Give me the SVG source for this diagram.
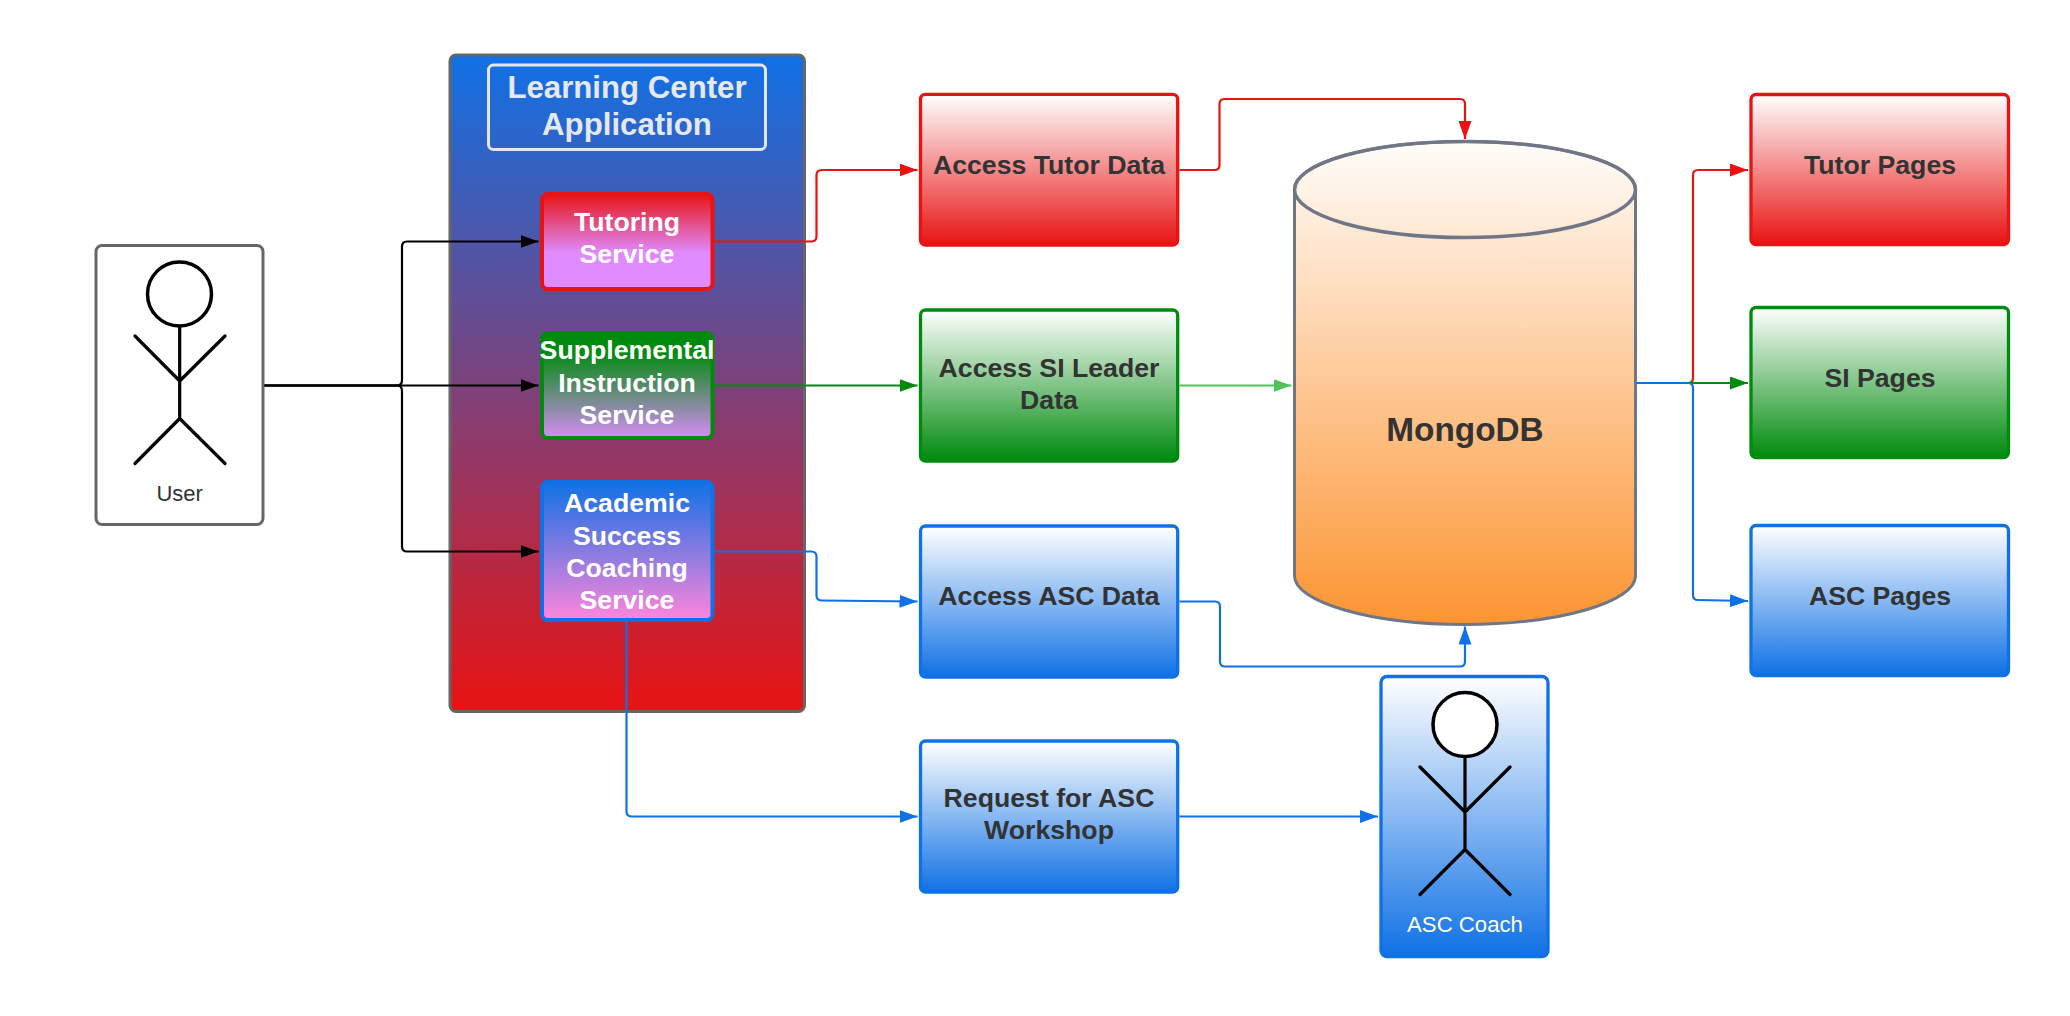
<svg xmlns="http://www.w3.org/2000/svg" width="2070" height="1016" viewBox="0 0 2070 1016">
<style>
text{font-family:"Liberation Sans",Arial,sans-serif;text-anchor:middle}
.b{font-weight:700;font-size:26.67px}
.dk{fill:#333}
.wh{fill:#fff}
.box{stroke-width:3.3}
.svc{stroke-width:4}
.red{stroke:#e81313}.grn{stroke:#008a0e}.blu{stroke:#1071e5}
.stick{fill:none;stroke:#000;stroke-width:3.2;stroke-linecap:round;stroke-linejoin:round}
.head{fill:#fff;stroke:#000;stroke-width:3.5}
.c{fill:none;stroke-width:2.2}
</style>
<defs>
<linearGradient id="gApp" x1="0" y1="0" x2="0" y2="1"><stop offset="0" stop-color="#1071e5"/><stop offset="1" stop-color="#e81313"/></linearGradient>
<linearGradient id="gTut" x1="0" y1="0" x2="0" y2="1"><stop offset="0" stop-color="#e81313"/><stop offset=".62" stop-color="#df8bff"/><stop offset="1" stop-color="#df8bff"/></linearGradient>
<linearGradient id="gSI" x1="0" y1="0" x2="0" y2="1"><stop offset=".18" stop-color="#008a0e"/><stop offset="1" stop-color="#d68cf5"/></linearGradient>
<linearGradient id="gAca" x1="0" y1="0" x2="0" y2="1"><stop offset="0" stop-color="#1071e5"/><stop offset="1" stop-color="#ff85dc"/></linearGradient>
<linearGradient id="gR" x1="0" y1="0" x2="0" y2="1"><stop offset="0" stop-color="#fff"/><stop offset="1" stop-color="#e81313"/></linearGradient>
<linearGradient id="gG" x1="0" y1="0" x2="0" y2="1"><stop offset="0" stop-color="#fff"/><stop offset="1" stop-color="#008a0e"/></linearGradient>
<linearGradient id="gB" x1="0" y1="0" x2="0" y2="1"><stop offset="0" stop-color="#fff"/><stop offset="1" stop-color="#1071e5"/></linearGradient>
<linearGradient id="gDB" gradientUnits="userSpaceOnUse" x1="0" y1="141" x2="0" y2="624"><stop offset="0" stop-color="#fffdfb"/><stop offset="1" stop-color="#fc9432"/></linearGradient>
<marker id="aK" markerUnits="userSpaceOnUse" markerWidth="18" markerHeight="13" refX="18" refY="6.5" orient="auto"><path d="M0 0L18 6.5L0 13Z" fill="#000"/></marker>
<marker id="aR" markerUnits="userSpaceOnUse" markerWidth="18" markerHeight="13" refX="18" refY="6.5" orient="auto"><path d="M0 0L18 6.5L0 13Z" fill="#e81313"/></marker>
<marker id="aG" markerUnits="userSpaceOnUse" markerWidth="18" markerHeight="13" refX="18" refY="6.5" orient="auto"><path d="M0 0L18 6.5L0 13Z" fill="#008a0e"/></marker>
<marker id="aL" markerUnits="userSpaceOnUse" markerWidth="18" markerHeight="13" refX="18" refY="6.5" orient="auto"><path d="M0 0L18 6.5L0 13Z" fill="#4fc35a"/></marker>
<marker id="aB" markerUnits="userSpaceOnUse" markerWidth="18" markerHeight="13" refX="18" refY="6.5" orient="auto"><path d="M0 0L18 6.5L0 13Z" fill="#1071e5"/></marker>
</defs>
<rect width="2070" height="1016" fill="#fff"/>

<g id="user">
<rect x="96" y="245.5" width="167" height="279" rx="6" fill="#fff" stroke="#666" stroke-width="3"/>
<circle class="head" cx="179.5" cy="294" r="32"/>
<path class="stick" d="M179.7 326V418.5M135 336L179.7 381L225 336M135 463.5L179.7 418.5L225 463.5"/>
<text x="179.7" y="501" font-size="22" class="dk">User</text>
</g>

<g id="learning-center-application">
<rect x="450" y="55" width="354.5" height="656.5" rx="6" fill="url(#gApp)" stroke="#666" stroke-width="3"/>
<rect x="488.5" y="65" width="277" height="84.5" rx="5" fill="none" stroke="#e3e6ee" stroke-width="3"/>
<text x="627" y="97.5" font-size="31.2" font-weight="700" fill="#e6e8ef">Learning Center</text>
<text x="627" y="135" font-size="31.2" font-weight="700" fill="#e6e8ef">Application</text>
</g>

<g id="tutoring-service">
<rect class="box svc red" x="542" y="194" width="170.5" height="95" rx="6" fill="url(#gTut)"/>
<text class="b wh" x="627" y="231">Tutoring</text>
<text class="b wh" x="627" y="263">Service</text>
</g>
<g id="supplemental-instruction-service">
<rect class="box svc grn" x="542" y="333" width="170.5" height="105" rx="6" fill="url(#gSI)"/>
<text class="b wh" x="627" y="359">Supplemental</text>
<text class="b wh" x="627" y="391.5">Instruction</text>
<text class="b wh" x="627" y="424">Service</text>
</g>
<g id="academic-success-coaching-service">
<rect class="box svc blu" x="542" y="482" width="170.5" height="138" rx="6" fill="url(#gAca)"/>
<text class="b wh" x="627" y="512">Academic</text>
<text class="b wh" x="627" y="544.5">Success</text>
<text class="b wh" x="627" y="576.5">Coaching</text>
<text class="b wh" x="627" y="609">Service</text>
</g>

<g id="access-tutor-data">
<rect class="box red" x="920.5" y="94.3" width="257.2" height="150.7" rx="5" fill="url(#gR)"/>
<text class="b dk" x="1049" y="174">Access Tutor Data</text>
</g>
<g id="access-si-leader-data">
<rect class="box grn" x="920.5" y="310" width="257.2" height="151" rx="5" fill="url(#gG)"/>
<text class="b dk" x="1049" y="377">Access SI Leader</text>
<text class="b dk" x="1049" y="409">Data</text>
</g>
<g id="access-asc-data">
<rect class="box blu" x="920.5" y="526" width="257.2" height="151" rx="5" fill="url(#gB)"/>
<text class="b dk" x="1049" y="605">Access ASC Data</text>
</g>
<g id="request-asc-workshop">
<rect class="box blu" x="920.5" y="741" width="257.2" height="151" rx="5" fill="url(#gB)"/>
<text class="b dk" x="1049" y="807">Request for ASC</text>
<text class="b dk" x="1049" y="839">Workshop</text>
</g>

<g id="mongodb">
<path d="M1294.5 189.5V576C1294.5 602 1371 624.5 1465 624.5S1635.5 602 1635.5 576V189.5C1635.5 163 1559 141.5 1465 141.5S1294.5 163 1294.5 189.5Z" fill="url(#gDB)" stroke="#6f7787" stroke-width="3"/>
<ellipse cx="1465" cy="189.5" rx="170.5" ry="48" fill="none" stroke="#6f7787" stroke-width="3.5"/>
<text x="1465" y="441" font-size="33.33" font-weight="700" class="dk">MongoDB</text>
</g>

<g id="tutor-pages">
<rect class="box red" x="1751" y="94.5" width="257.5" height="150" rx="5" fill="url(#gR)"/>
<text class="b dk" x="1880" y="174">Tutor Pages</text>
</g>
<g id="si-pages">
<rect class="box grn" x="1751" y="307.5" width="257.5" height="150" rx="5" fill="url(#gG)"/>
<text class="b dk" x="1880" y="387">SI Pages</text>
</g>
<g id="asc-pages">
<rect class="box blu" x="1751" y="525.5" width="257.5" height="150" rx="5" fill="url(#gB)"/>
<text class="b dk" x="1880" y="605">ASC Pages</text>
</g>

<g id="asc-coach">
<rect class="box blu" x="1381" y="676.5" width="167" height="280" rx="6" fill="url(#gB)"/>
<circle class="head" cx="1465" cy="724.5" r="32"/>
<path class="stick" d="M1465 756.5V849.5M1420 767L1465 812L1510 767M1420 894.5L1465 849.5L1510 894.5"/>
<text x="1465" y="932" font-size="22.2" fill="#fff">ASC Coach</text>
</g>

<g id="connectors">
<path class="c" stroke="#000" marker-end="url(#aK)" d="M264.5 385.5H397Q402 385.5 402 380V246.5Q402 241.5 407 241.5H538.5"/>
<path class="c" stroke="#000" marker-end="url(#aK)" d="M264.5 385.5H538.5"/>
<path class="c" stroke="#000" marker-end="url(#aK)" d="M264.5 385.5H397Q402 385.5 402 391V546.5Q402 551.5 407 551.5H538.5"/>
<path class="c red" marker-end="url(#aR)" d="M714 241.5H811Q816.5 241.5 816.5 236.5V175Q816.5 170 822 170H917.5"/>
<path class="c grn" marker-end="url(#aG)" d="M714 385.5H917.5"/>
<path class="c blu" marker-end="url(#aB)" d="M714 551.5H811Q816.5 551.5 816.5 556.5V595.5Q816.5 600.5 822 600.5L917.5 601.5"/>
<path class="c blu" marker-end="url(#aB)" d="M626.5 621V811.5Q626.5 816.5 632 816.5H917.5"/>
<path class="c red" marker-end="url(#aR)" d="M1179.5 170H1214.5Q1219.5 170 1219.5 165V104Q1219.5 99 1224.5 99H1460Q1465 99 1465 104V139"/>
<path class="c" stroke="#4fc35a" marker-end="url(#aL)" d="M1179.5 385.5H1291.5"/>
<path class="c blu" marker-end="url(#aB)" d="M1179.5 601.5H1215Q1220 601.5 1220 606.5V661.5Q1220 666.5 1225 666.5H1460Q1465 666.5 1465 661.5V626.5"/>
<path class="c blu" marker-end="url(#aB)" d="M1179.5 816.5H1378"/>
<path class="c red" marker-end="url(#aR)" d="M1636 383H1688Q1693 383 1693 378V175Q1693 170 1698 170H1748"/>
<path class="c grn" marker-end="url(#aG)" d="M1636 383H1748"/>
<path class="c blu" marker-end="url(#aB)" d="M1636 383H1688Q1693 383 1693 388V595Q1693 600 1698 600L1748 601"/>
</g>
</svg>
